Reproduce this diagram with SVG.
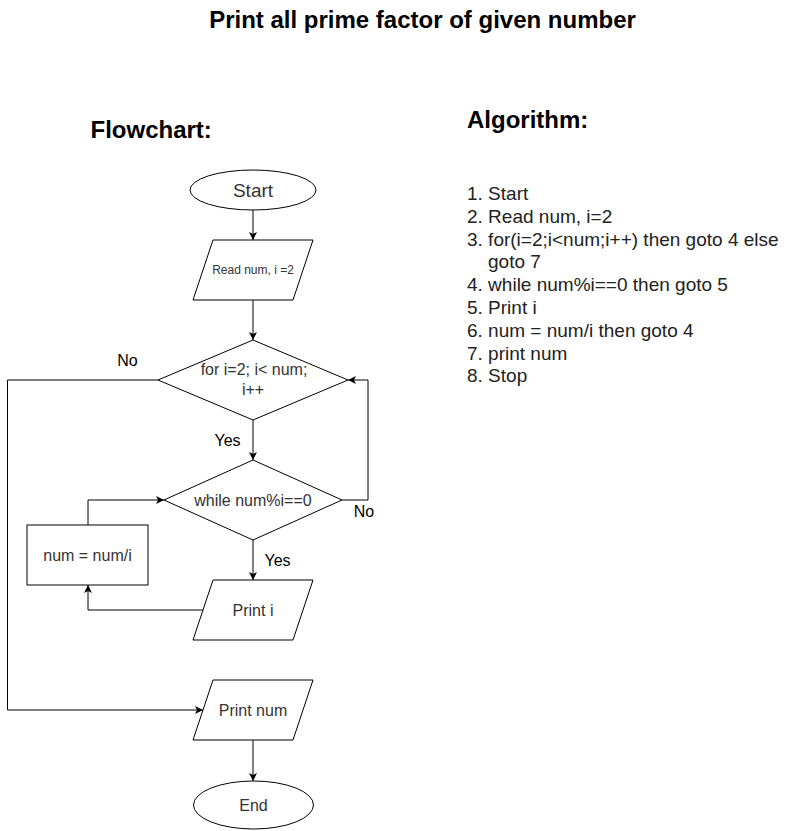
<svg xmlns="http://www.w3.org/2000/svg" width="808" height="831" viewBox="0 0 808 831">
<defs>
<style>
.shape{fill:#fff;stroke:#000;stroke-width:1}
.conn{fill:none;stroke:#000;stroke-width:1;marker-end:url(#arr)}
.t{font-family:"Liberation Sans",Arial,sans-serif;fill:#333;text-anchor:middle}
.lbl{font-family:"Liberation Sans",Arial,sans-serif;fill:#000;font-size:16px;text-anchor:middle}
.h{font-family:"Liberation Sans",Arial,sans-serif;font-weight:bold;font-size:24px;fill:#000}
.alg{font-family:"Liberation Sans",Arial,sans-serif;font-size:19px;fill:#222}
</style>
<marker id="arr" viewBox="0 0 10 10" refX="10" refY="5" markerWidth="8" markerHeight="8" markerUnits="userSpaceOnUse" orient="auto">
<path d="M0,0 L10,5 L0,10 L2.5,5 z" fill="#000"/>
</marker>
</defs>
<rect width="808" height="831" fill="#fff"/>

<text class="h" x="422.5" y="27.5" text-anchor="middle">Print all prime factor of given number</text>
<text class="h" x="90.5" y="138">Flowchart:</text>
<text class="h" x="467" y="127.5">Algorithm:</text>

<g id="algorithm" class="alg">
<text x="467" y="200">1. Start</text>
<text x="467" y="222.8">2. Read num, i=2</text>
<text x="467" y="245.6">3. for(i=2;i&lt;num;i++) then goto 4 else</text>
<text x="488" y="268.4">goto 7</text>
<text x="467" y="291.2">4. while num%i==0 then goto 5</text>
<text x="467" y="314">5. Print i</text>
<text x="467" y="336.8">6. num = num/i then goto 4</text>
<text x="467" y="359.6">7. print num</text>
<text x="467" y="382.4">8. Stop</text>
</g>

<g id="connectors">
<path class="conn" d="M253,210 L253,240"/>
<path class="conn" d="M253,300 L253,340"/>
<path class="conn" d="M253,420 L253,460"/>
<path class="conn" d="M253,540 L253,580"/>
<path class="conn" d="M342,500 L368,500 L368,380 L348,380"/>
<path class="conn" d="M158,380 L7.5,380 L7.5,710 L203,710"/>
<path class="conn" d="M203,610 L88,610 L88,585"/>
<path class="conn" d="M88,525 L88,500 L164,500"/>
<path class="conn" d="M253,740 L253,781"/>
<text class="lbl" x="227.5" y="446">Yes</text>
<text class="lbl" x="277.5" y="566">Yes</text>
<text class="lbl" x="127.5" y="366">No</text>
<text class="lbl" x="364" y="516.5">No</text>
</g>

<g id="start">
<ellipse class="shape" cx="253" cy="190" rx="63" ry="20"/>
<text class="t" x="253" y="196.5" font-size="19">Start</text>
</g>

<g id="read">
<polygon class="shape" points="213,240 313,240 293,300 193,300"/>
<text class="t" x="253" y="274" font-size="12">Read num, i =2</text>
</g>

<g id="for">
<polygon class="shape" points="253,340 348,380 253,420 158,380"/>
<text class="t" x="254" y="375" font-size="16">for i=2; i&lt; num;</text>
<text class="t" x="253" y="394.5" font-size="16">i++</text>
</g>

<g id="while">
<polygon class="shape" points="253,460 342,500 253,540 164,500"/>
<text class="t" x="253" y="505.5" font-size="16">while num%i==0</text>
</g>

<g id="divide">
<rect class="shape" x="27" y="525" width="121" height="60"/>
<text class="t" x="87.5" y="561" font-size="16">num = num/i</text>
</g>

<g id="printi">
<polygon class="shape" points="213,580 313,580 293,640 193,640"/>
<text class="t" x="253" y="616" font-size="16">Print i</text>
</g>

<g id="printnum">
<polygon class="shape" points="213,680 313,680 293,740 193,740"/>
<text class="t" x="253" y="716" font-size="16">Print num</text>
</g>

<g id="end">
<ellipse class="shape" cx="253.5" cy="805" rx="60" ry="24"/>
<text class="t" x="253.5" y="811" font-size="16">End</text>
</g>
</svg>
